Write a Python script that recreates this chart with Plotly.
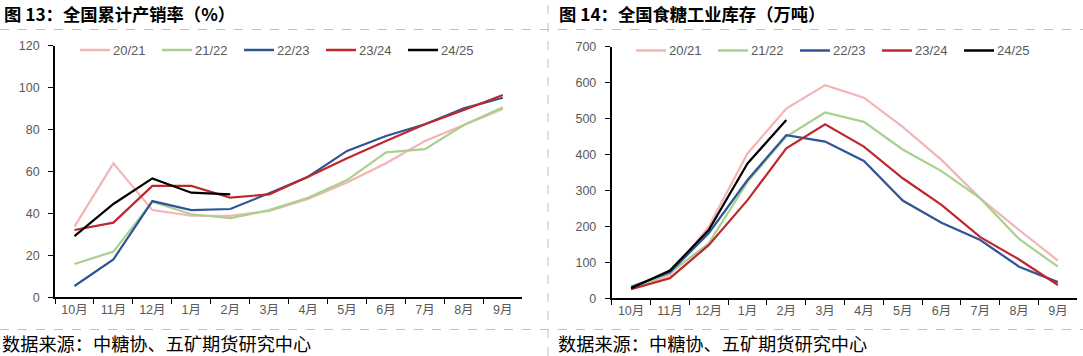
import plotly.graph_objects as go

months = ["10月", "11月", "12月", "1月", "2月", "3月", "4月", "5月", "6月", "7月", "8月", "9月"]
seasons = ["20/21", "21/22", "22/23", "23/24", "24/25"]
colors = ["#F4B3B5", "#A9D18E", "#2F5597", "#C0272D", "#000000"]

# 全国累计产销率（%）
rate_2021 = [33.7, 63.9, 41.6, 38.9, 38.8, 41.2, 46.9, 54.7, 63.9, 74.5, 82.2, 89.8]
rate_2122 = [15.9, 21.8, 45.6, 39.6, 37.7, 41.6, 47.5, 55.9, 69.1, 70.7, 82.2, 90.6]
rate_2223 = [5.4, 18.1, 45.9, 41.6, 42.1, 49.6, 57.5, 69.8, 76.9, 82.5, 90.1, 95.2]
rate_2324 = [32.1, 35.6, 53.1, 53.1, 47.5, 49.1, 57.5, 66.3, 74.5, 82.5, 89.3, 96.5]
rate_2425 = [29.2, 44.5, 56.7, 49.9, 49.1]

# 全国食糖工业库存（万吨）
stock_2021 = [28, 65, 199, 403, 528, 593, 558, 477, 385, 278, 190, 105]
stock_2122 = [25, 70, 153, 324, 450, 517, 491, 414, 354, 278, 165, 88]
stock_2223 = [32, 72, 181, 329, 454, 436, 382, 272, 210, 162, 88, 45]
stock_2324 = [25, 56, 148, 273, 417, 484, 422, 334, 260, 170, 108, 37]
stock_2425 = [28, 77, 190, 375, 496]

W, H = 1083, 356
rate_data = [rate_2021, rate_2122, rate_2223, rate_2324, rate_2425]
stock_data = [stock_2021, stock_2122, stock_2223, stock_2324, stock_2425]

fig = go.Figure()
for name, col, vals in zip(seasons, colors, rate_data):
    fig.add_trace(go.Scatter(x=months[:len(vals)], y=vals, name=name, mode="lines",
                             line=dict(color=col, width=2.2), xaxis="x", yaxis="y",
                             showlegend=False))
for name, col, vals in zip(seasons, colors, stock_data):
    fig.add_trace(go.Scatter(x=months[:len(vals)], y=vals, name=name, mode="lines",
                             line=dict(color=col, width=2.2), xaxis="x2", yaxis="y2",
                             showlegend=False))

tickfont = dict(family="Liberation Sans, Noto Sans CJK SC", size=12.5, color="#595959")
xcommon = dict(type="category", categoryorder="array", categoryarray=months,
               showline=True, linecolor="#000000", linewidth=1.8,
               ticks="outside", ticklen=5, tickcolor="#000000", tickwidth=1.2,
               tickson="boundaries", showgrid=False, zeroline=False, tickangle=0,
               automargin=False, tickfont=tickfont, range=[-0.5, 11.5], fixedrange=True)
ycommon = dict(showline=True, linecolor="#000000", linewidth=1.8,
               ticks="outside", ticklen=5, tickcolor="#000000", tickwidth=1.2,
               showgrid=False, zeroline=False, tickfont=tickfont, automargin=False,
               ticklabelstandoff=6)

fig.update_layout(
    width=W, height=H,
    margin=dict(l=0, r=0, t=0, b=0, autoexpand=False),
    paper_bgcolor="white", plot_bgcolor="white",
    showlegend=False,
    xaxis=dict(domain=[55 / W, 522.3 / W], anchor="y", **xcommon),
    yaxis=dict(domain=[1 - 297.3 / H, 1 - 45.7 / H], anchor="x", range=[0, 120],
               dtick=20, **ycommon),
    xaxis2=dict(domain=[611.7 / W, 1077.3 / W], anchor="y2", **xcommon),
    yaxis2=dict(domain=[1 - 298.3 / H, 1 - 46.7 / H], anchor="x2", range=[0, 700],
                dtick=100, **ycommon),
)

# legends (drawn manually in paper coordinates)
legfont = dict(family="Liberation Sans, Noto Sans CJK SC", size=13, color="#595959")
for x0, ly in [(80, 50), (636, 50.5)]:
    for i, (name, col) in enumerate(zip(seasons, colors)):
        xs = x0 + i * 82
        fig.add_shape(type="line", xref="paper", yref="paper",
                      x0=xs / W, x1=(xs + 30) / W, y0=1 - ly / H, y1=1 - ly / H,
                      line=dict(color=col, width=2.5))
        fig.add_annotation(text=name, x=(xs + 31) / W, y=1 - ly / H, xref="paper",
                           yref="paper", xanchor="left", yanchor="middle",
                           showarrow=False, font=legfont)

titlefont = dict(family="Noto Sans CJK SC", size=17.3, color="#000000", weight="bold")
srcfont = dict(family="Noto Sans CJK SC", size=18.2, color="#000000")
fig.add_annotation(text="图 13：全国累计产销率（%）", x=2 / W, y=1 - 13 / H, xref="paper",
                   yref="paper", xanchor="left", yanchor="middle", showarrow=False,
                   font=titlefont)
fig.add_annotation(text="图 14：全国食糖工业库存（万吨）", x=557 / W, y=1 - 13 / H, xref="paper",
                   yref="paper", xanchor="left", yanchor="middle", showarrow=False,
                   font=titlefont)
fig.add_annotation(text="数据来源：中糖协、五矿期货研究中心", x=1 / W, y=1 - 343.3 / H, xref="paper",
                   yref="paper", xanchor="left", yanchor="middle", showarrow=False,
                   borderpad=0, font=srcfont)
fig.add_annotation(text="数据来源：中糖协、五矿期货研究中心", x=557 / W, y=1 - 343.3 / H, xref="paper",
                   yref="paper", xanchor="left", yanchor="middle", showarrow=False,
                   borderpad=0, font=srcfont)

dash = dict(color="#BFBFBF", width=1, dash="dash")
fig.add_shape(type="line", xref="paper", yref="paper", x0=0, x1=1,
              y0=1 - 29.5 / H, y1=1 - 29.5 / H, line=dash)
fig.add_shape(type="line", xref="paper", yref="paper", x0=0, x1=1,
              y0=1 - 329.5 / H, y1=1 - 329.5 / H, line=dash)
fig.add_shape(type="line", xref="paper", yref="paper", x0=548 / W, x1=548 / W,
              y0=0, y1=1, line=dash)

fig.write_html("out.html", config={"displayModeBar": False},
               post_script="document.body.style.margin='0';document.body.style.overflow='hidden';")
